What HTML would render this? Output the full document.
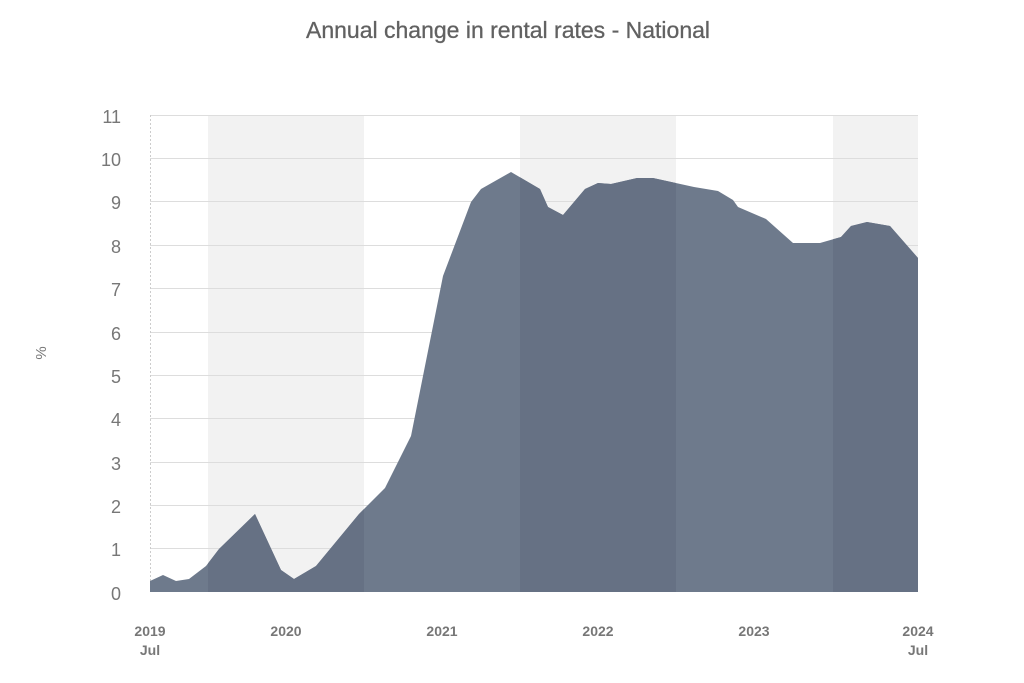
<!DOCTYPE html>
<html><head><style>
body{margin:0;background:#fff;}
svg text{font-family:"Liberation Sans",sans-serif;}
</style></head><body>
<svg width="1024" height="678" xmlns="http://www.w3.org/2000/svg">
<rect width="1024" height="678" fill="#fff"/>
<text x="508" y="38" text-anchor="middle" font-size="23" fill="#616161" stroke="#616161" stroke-width="0.3">Annual change in rental rates - National</text>
<rect x="208" y="115" width="156" height="477" fill="#f2f2f2"/>
<rect x="520" y="115" width="156" height="477" fill="#f2f2f2"/>
<rect x="833" y="115" width="85" height="477" fill="#f2f2f2"/>
<g stroke="#dddddd" stroke-width="1">
<line x1="150" x2="918" y1="115.5" y2="115.5"/>
<line x1="150" x2="918" y1="158.5" y2="158.5"/>
<line x1="150" x2="918" y1="201.5" y2="201.5"/>
<line x1="150" x2="918" y1="245.5" y2="245.5"/>
<line x1="150" x2="918" y1="288.5" y2="288.5"/>
<line x1="150" x2="918" y1="332.5" y2="332.5"/>
<line x1="150" x2="918" y1="375.5" y2="375.5"/>
<line x1="150" x2="918" y1="418.5" y2="418.5"/>
<line x1="150" x2="918" y1="462.5" y2="462.5"/>
<line x1="150" x2="918" y1="505.5" y2="505.5"/>
<line x1="150" x2="918" y1="548.5" y2="548.5"/>
</g>
<line x1="150.5" x2="150.5" y1="115" y2="592" stroke="#ccc" stroke-dasharray="2,2"/>
<defs><clipPath id="c"><path d="M150,581 L163,575 L176,581 L189,579 L206,566 L219,549 L255,514 L281,570 L294,579 L316,566 L359,514 L385,488 L411,436 L443,276 L471,202 L481,189 L511,172 L540,189 L548,207 L563,215 L585,189 L598,183 L611,184 L637,178 L653,178 L694,187 L718,191 L733,200 L738,207 L766,219 L793,243 L820,243 L841,237 L851,226 L867,222 L890,226 L918,258 L918,592 L150,592 Z"/></clipPath></defs>
<path d="M150,581 L163,575 L176,581 L189,579 L206,566 L219,549 L255,514 L281,570 L294,579 L316,566 L359,514 L385,488 L411,436 L443,276 L471,202 L481,189 L511,172 L540,189 L548,207 L563,215 L585,189 L598,183 L611,184 L637,178 L653,178 L694,187 L718,191 L733,200 L738,207 L766,219 L793,243 L820,243 L841,237 L851,226 L867,222 L890,226 L918,258 L918,592 L150,592 Z" fill="#6e7a8c"/>
<g clip-path="url(#c)" fill="#667184">
<rect x="208" y="100" width="156" height="500"/>
<rect x="520" y="100" width="156" height="500"/>
<rect x="833" y="100" width="85" height="500"/>
</g>
<g font-size="18" fill="#777" text-anchor="end">
<text x="121" y="123">11</text><text x="121" y="166">10</text><text x="121" y="209">9</text>
<text x="121" y="253">8</text><text x="121" y="296">7</text><text x="121" y="340">6</text>
<text x="121" y="383">5</text><text x="121" y="426">4</text><text x="121" y="470">3</text>
<text x="121" y="513">2</text><text x="121" y="556">1</text><text x="121" y="600">0</text>
</g>
<text x="46" y="353" font-size="15" fill="#777" text-anchor="middle" transform="rotate(-90 46 353)">%</text>
<g font-size="14" fill="#777" text-anchor="middle" font-weight="bold">
<text x="150" y="636">2019</text><text x="150" y="655">Jul</text>
<text x="286" y="636">2020</text><text x="442" y="636">2021</text>
<text x="598" y="636">2022</text><text x="754" y="636">2023</text>
<text x="918" y="636">2024</text><text x="918" y="655">Jul</text>
</g>
</svg>
</body></html>
